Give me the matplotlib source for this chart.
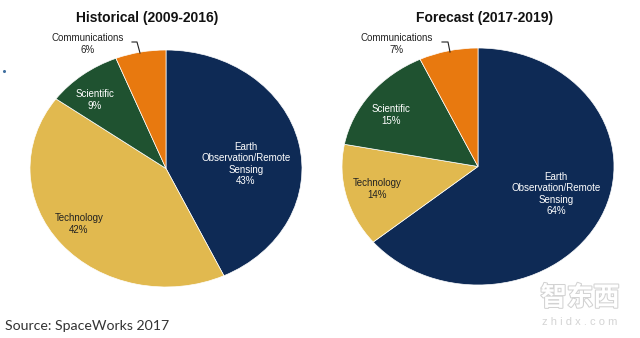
import matplotlib
matplotlib.use('Agg')
import matplotlib.pyplot as plt
from matplotlib.lines import Line2D
import matplotlib.patheffects as pe

plt.rcParams['font.family'] = ['Liberation Sans', 'DejaVu Sans']

W, H = 640, 338

categories = ["Earth\nObservation/Remote\nSensing", "Technology", "Scientific", "Communications"]
historical = [43, 42, 9, 6]
forecast = [64, 14, 15, 7]
titles = ["Historical (2009-2016)", "Forecast (2017-2019)"]
colors = ["#0e2a55", "#e1b94f", "#1f5230", "#e8790f"]
source = "Source: SpaceWorks 2017"

fig = plt.figure(figsize=(6.4, 3.38), dpi=100)


def px(x, y):
    return x / W, 1 - y / H


def pie_axes(x0, y0, x1, y1):
    return fig.add_axes([x0 / W, 1 - y1 / H, (x1 - x0) / W, (y1 - y0) / H])


def draw_pie(box, values, title, title_xy, label_xy, text_colors, leader):
    ax = pie_axes(*box)
    ax.pie(values, colors=colors, startangle=90, counterclock=False,
           wedgeprops=dict(edgecolor='white', linewidth=0.5))
    ax.set_aspect('auto')
    ax.set_xlim(-1, 1)
    ax.set_ylim(-1, 1)
    ax.axis('off')
    tx, ty = px(*title_xy)
    fig.text(tx, ty, title, ha='center', va='center', fontsize=10, fontweight='bold', color='#111111')
    for cat, v, (lx, ly), tc in zip(categories, values, label_xy, text_colors):
        fx, fy = px(lx, ly)
        fig.text(fx, fy, f"{cat}\n{v}%", ha='center', va='center', fontsize=7,
                 color=tc, linespacing=1.2)
    xs = [px(x, y)[0] for x, y in leader]
    ys = [px(x, y)[1] for x, y in leader]
    fig.add_artist(Line2D(xs, ys, color='#222222', linewidth=0.8, transform=fig.transFigure))


draw_pie((30, 50, 302, 287), historical, titles[0], (147, 18),
         [(246, 164), (79, 224), (95, 100), (88, 44)],
         ['white', '#222222', 'white', '#222222'],
         [(132, 42), (137, 42), (140, 53)])

draw_pie((342, 48, 614, 285), forecast, titles[1], (485, 18),
         [(556, 194), (377, 189), (391, 115), (397, 44)],
         ['white', '#222222', 'white', '#222222'],
         [(442, 42), (448, 42), (450, 52)])

sx, sy = px(5, 326)
fig.text(sx, sy, source, ha='left', va='center', fontsize=10.2, family=['Lato', 'DejaVu Sans'], color='#333333')

# small dot artifact
dx, dy = px(4, 71)
fig.add_artist(Line2D([dx], [dy], marker='o', markersize=1.2, color='#4070a0', transform=fig.transFigure))

# watermark
wx, wy = px(580, 298)
fig.text(wx, wy, "智东西", ha='center', va='center', fontsize=19,
         family=['Noto Sans CJK SC', 'DejaVu Sans'], color='white', fontweight='bold',
         path_effects=[pe.withStroke(linewidth=1.5, foreground='#d2d2d2')])
zx, zy = px(580, 322)
fig.text(zx, zy, "z h i d x . c o m", ha='center', va='center', fontsize=8,
         color='#d4d4d4')

fig.savefig('out.png', dpi=100)
